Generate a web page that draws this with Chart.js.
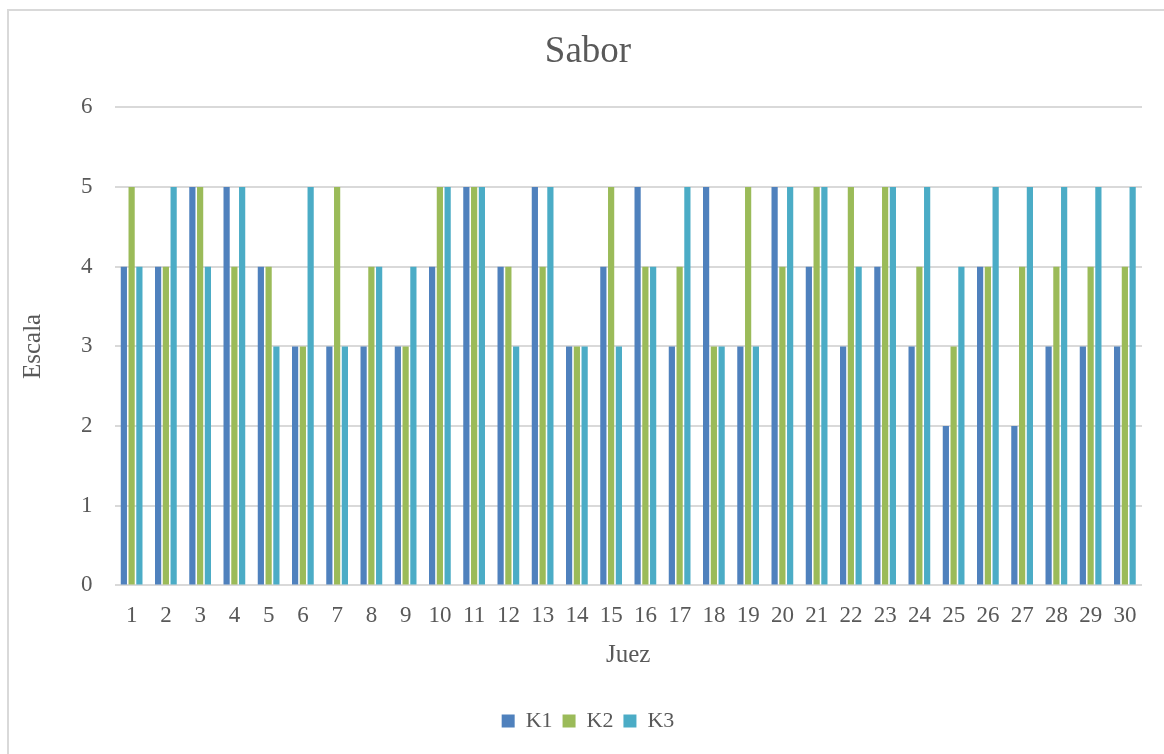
<!DOCTYPE html>
<html>
<head>
<meta charset="utf-8">
<script src="https://cdn.jsdelivr.net/npm/chart.js@4"></script>
<style>
  html, body { margin: 0; padding: 0; background: #fff; }
  #wrap { position: relative; width: 1164px; height: 754px; }
  #frame { position: absolute; left: 7px; top: 9px; width: 1170px; height: 760px; border: 2px solid #d9d9d9; box-sizing: border-box; }
</style>
</head>
<body>
<div id="wrap">
  <div id="frame"></div>
  <canvas id="saborChart"></canvas>
</div>
<script>
// DATA
const judges = ["1","2","3","4","5","6","7","8","9","10","11","12","13","14","15",
                "16","17","18","19","20","21","22","23","24","25","26","27","28","29","30"];
const k1 = [4,4,5,5,4,3,3,3,3,4,5,4,5,3,4,5,3,5,3,5,4,3,4,3,2,4,2,3,3,3];
const k2 = [5,4,5,4,4,3,5,4,3,5,5,4,4,3,5,4,4,3,5,4,5,5,5,4,3,4,4,4,4,4];
const k3 = [4,5,4,5,3,5,3,4,4,5,5,3,5,3,3,4,5,3,3,5,5,4,5,5,4,5,5,5,5,5];
const yMin = 0, yMax = 6, yStep = 1;

const textColor = "#595959";
const gridColor = "#d9d9d9";
const serif = "'Liberation Serif', 'DejaVu Serif', serif";

// CHART
new Chart(document.getElementById("saborChart"), {
  type: "bar",
  data: {
    labels: judges,
    datasets: [
      { label: "K1", data: k1, backgroundColor: "#4f81bd" },
      { label: "K2", data: k2, backgroundColor: "#9bbb59" },
      { label: "K3", data: k3, backgroundColor: "#4bacc6" }
    ]
  },
  options: {
    responsive: true,
    maintainAspectRatio: false,
    animation: false,
    datasets: { bar: { categoryPercentage: 0.68, barPercentage: 0.8 } },
    layout: { padding: { left: 34, right: 22, top: 30, bottom: 12 } },
    plugins: {
      title: {
        display: true,
        text: "Sabor",
        color: textColor,
        font: { family: serif, size: 37, weight: "normal" },
        padding: { top: 0, bottom: 33 }
      },
      legend: {
        position: "bottom",
        labels: {
          color: textColor,
          font: { family: serif, size: 22 },
          boxWidth: 13,
          boxHeight: 13,
          padding: 10
        }
      },
      tooltip: { enabled: false }
    },
    scales: {
      x: {
        grid: { display: false, drawTicks: false },
        border: { display: false },
        ticks: { color: textColor, font: { family: serif, size: 23 }, padding: 17, maxRotation: 0, autoSkip: false },
        title: { display: true, text: "Juez", color: textColor, font: { family: serif, size: 25 }, padding: { top: -7, bottom: 30 } }
      },
      y: {
        min: yMin,
        max: yMax,
        grid: { color: gridColor, lineWidth: 2, drawTicks: false },
        border: { display: false },
        ticks: { stepSize: yStep, color: textColor, font: { family: serif, size: 23 }, padding: 22 },
        title: { display: true, text: "Escala", color: textColor, font: { family: serif, size: 25 }, padding: { top: -16, bottom: 11 } }
      }
    }
  }
});
</script>
</body>
</html>
